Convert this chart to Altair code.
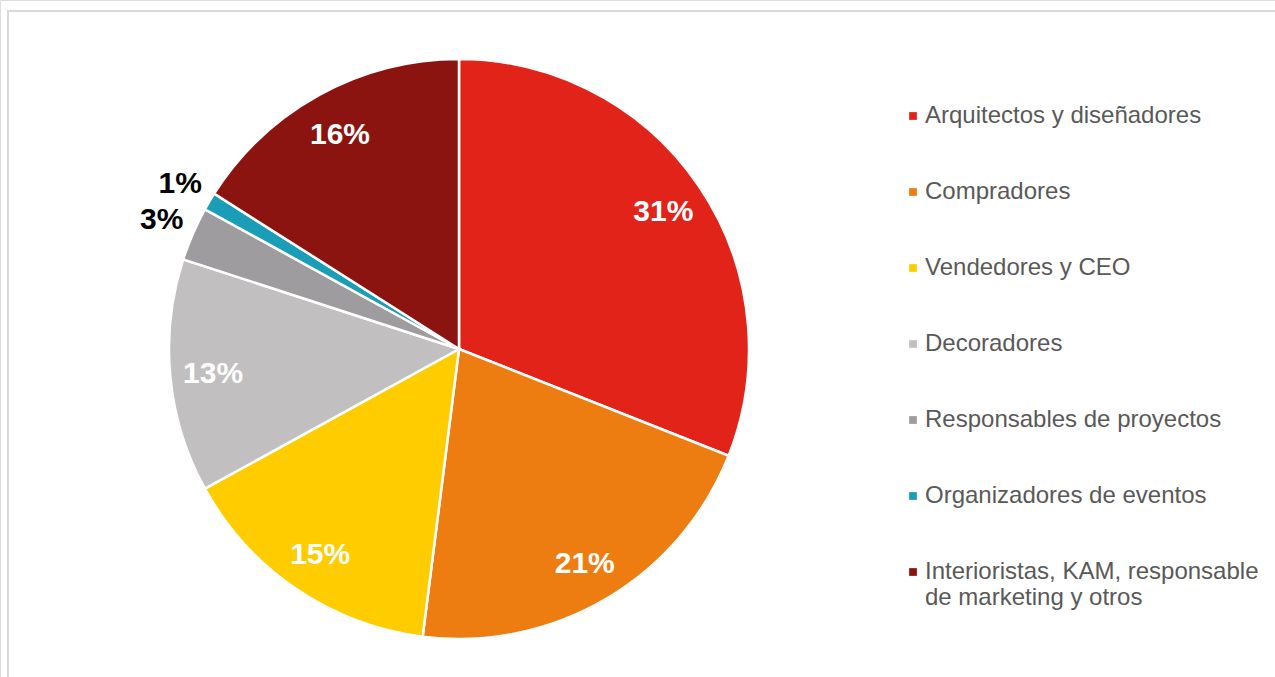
import altair as alt
import pandas as pd

categories = [
    "Arquitectos y diseñadores",
    "Compradores",
    "Vendedores y CEO",
    "Decoradores",
    "Responsables de proyectos",
    "Organizadores de eventos",
    "Interioristas, KAM, responsable de marketing y otros",
]
values = [31, 21, 15, 13, 3, 1, 16]
colors = ["#E2231A", "#EE7D11", "#FFCC00", "#C1BFC0", "#9E9C9F", "#1A9EB8", "#8C1410"]

df = pd.DataFrame({
    "cat": categories,
    "value": values,
    "idx": list(range(len(categories))),
})

base = alt.Chart(df).transform_calculate(
    inlab="datum.value >= 5 ? datum.value + '%' : ''",
    outlab="datum.value < 5 ? datum.value + '%' : ''",
).encode(
    theta=alt.Theta("value:Q", stack=True),
    order=alt.Order("idx:Q"),
)

cx, cy = 459, 349

arcs = base.mark_arc(outerRadius=290, stroke="white", strokeWidth=2.5).encode(
    x=alt.value(cx),
    y=alt.value(cy),
    color=alt.Color(
        "cat:N",
        scale=alt.Scale(domain=categories, range=colors),
        sort=categories,
        legend=alt.Legend(
            title=None,
            orient="none",
            legendX=901,
            legendY=104,
            symbolType="square",
            symbolSize=60,
            symbolStrokeWidth=0,
            labelFontSize=24,
            labelFont="Liberation Sans",
            labelColor="#595959",
            labelOffset=0,
            rowPadding=52,
            labelLimit=400,
            labelExpr="datum.label == 'Interioristas, KAM, responsable de marketing y otros' ? ['Interioristas, KAM, responsable', 'de marketing y otros'] : datum.label",
        ),
    ),
)

inside = base.mark_text(
    radius=247, dy=2, font="Liberation Sans", fontWeight="bold", fontSize=30,
    align="center", baseline="middle", color="white",
).encode(
    x=alt.value(cx), y=alt.value(cy), text="inlab:N",
)

outside = base.mark_text(
    radius=324, font="Liberation Sans", fontWeight="bold", fontSize=30,
    align="center", baseline="middle", color="black",
).encode(
    x=alt.value(cx), y=alt.value(cy), text="outlab:N",
)

border = alt.Chart(pd.DataFrame({"a": [0]})).mark_rect(
    fill="white", stroke="#D9D9D9", strokeWidth=2
).encode(
    x=alt.value(8), y=alt.value(11), x2=alt.value(1300), y2=alt.value(720)
)

chart = alt.layer(border, arcs, inside, outside).properties(
    width=1275, height=677, padding=0, autosize=alt.AutoSizeParams(type="none"),
).configure_view(stroke=None).configure(background="white")

chart.save("out.html", embed_options={"renderer": "svg", "actions": False})
